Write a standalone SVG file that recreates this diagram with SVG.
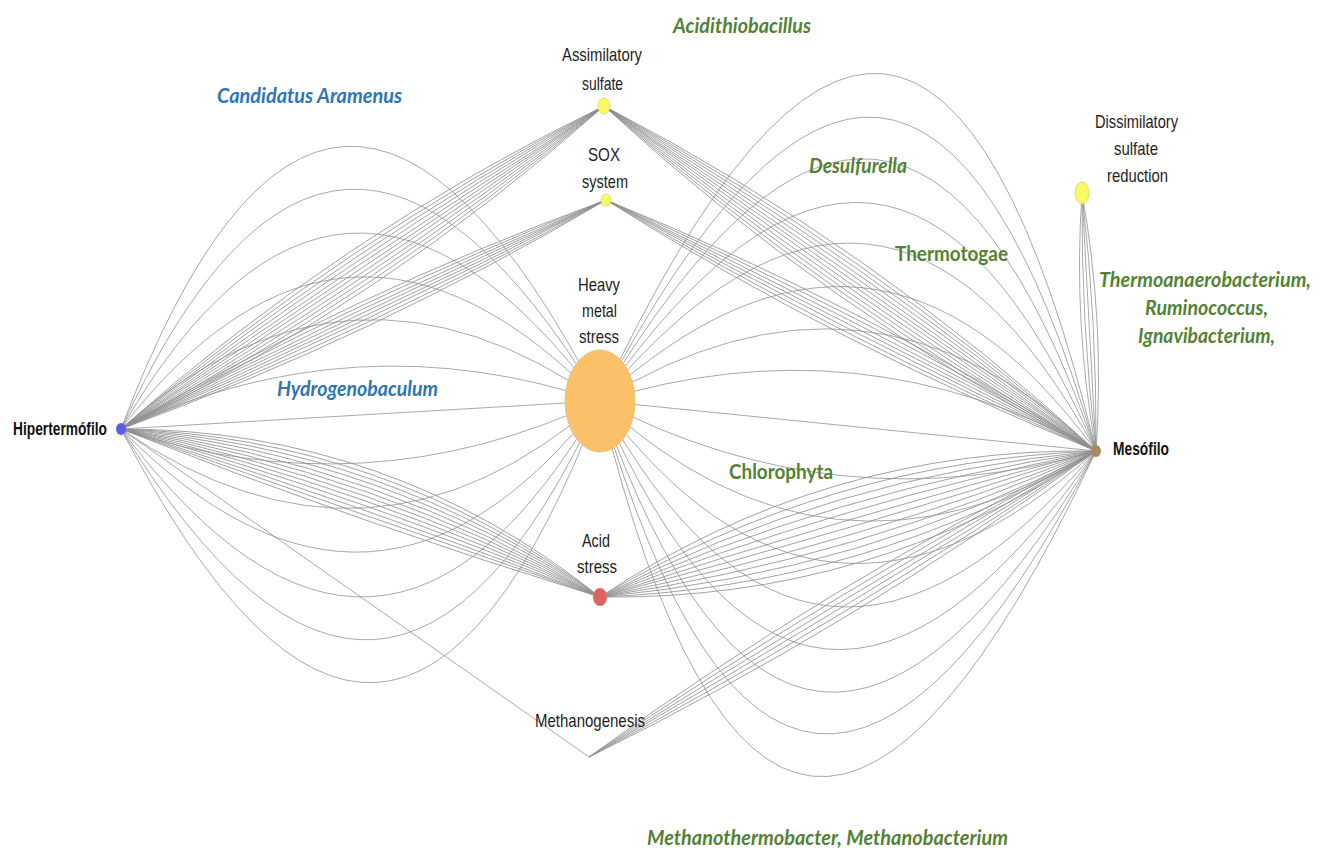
<svg xmlns="http://www.w3.org/2000/svg" width="1325" height="852" viewBox="0 0 1325 852">
  <style>
    .e { fill: none; stroke: #8e8e8e; stroke-width: 0.75; }
    .lbl { font-family: "Liberation Sans", Arial, sans-serif; font-size: 19px; fill: #1e1e1e; }
    .lblb { font-family: "Liberation Sans", Arial, sans-serif; font-size: 19px; font-weight: bold; fill: #111; }
    .tax { font-family: Lato, "Open Sans", sans-serif; font-size: 21px; font-weight: bold; }
    .it { font-style: italic; }
    .blue { fill: #2e75b6; }
    .green { fill: #548235; }
    .yellow { fill: #fafa62; stroke: #d6d66a; stroke-width: 0.8; }
  </style>
  <rect width="1325" height="852" fill="#ffffff"/>

  <!-- connectors: each bundle drawn in a local frame running along its chord -->
  <g id="edges">
    <!-- Hipertermófilo – Heavy metal stress -->
    <g transform="translate(121,429) rotate(-3.345)">
      <path class="e" d="M0,0 Q239.9,-538 479.8,0"/>
      <path class="e" d="M0,0 Q239.9,-452 479.8,0"/>
      <path class="e" d="M0,0 Q239.9,-364 479.8,0"/>
      <path class="e" d="M0,0 Q239.9,-276 479.8,0"/>
      <path class="e" d="M0,0 Q239.9,-190 479.8,0"/>
      <path class="e" d="M0,0 Q239.9,-96 479.8,0"/>
      <path class="e" d="M0,0 L479.8,0"/>
      <path class="e" d="M0,0 Q239.9,96 479.8,0"/>
      <path class="e" d="M0,0 Q239.9,186 479.8,0"/>
      <path class="e" d="M0,0 Q239.9,274 479.8,0"/>
      <path class="e" d="M0,0 Q239.9,364 479.8,0"/>
      <path class="e" d="M0,0 Q239.9,450 479.8,0"/>
      <path class="e" d="M0,0 Q239.9,536 479.8,0"/>
    </g>
    <!-- Heavy metal stress – Mesófilo -->
    <g transform="translate(600,401) rotate(5.757)">
      <path class="e" d="M0,0 Q249.3,-708 498.5,0"/>
      <path class="e" d="M0,0 Q249.3,-620 498.5,0"/>
      <path class="e" d="M0,0 Q249.3,-536 498.5,0"/>
      <path class="e" d="M0,0 Q249.3,-448 498.5,0"/>
      <path class="e" d="M0,0 Q249.3,-366 498.5,0"/>
      <path class="e" d="M0,0 Q249.3,-278 498.5,0"/>
      <path class="e" d="M0,0 Q249.3,-192 498.5,0"/>
      <path class="e" d="M0,0 Q249.3,-106 498.5,0"/>
      <path class="e" d="M0,0 L498.5,0"/>
      <path class="e" d="M0,0 Q249.3,100 498.5,0"/>
      <path class="e" d="M0,0 Q249.3,188 498.5,0"/>
      <path class="e" d="M0,0 Q249.3,274 498.5,0"/>
      <path class="e" d="M0,0 Q249.3,362 498.5,0"/>
      <path class="e" d="M0,0 Q249.3,448 498.5,0"/>
      <path class="e" d="M0,0 Q249.3,534 498.5,0"/>
      <path class="e" d="M0,0 Q249.3,618 498.5,0"/>
      <path class="e" d="M0,0 Q249.3,704 498.5,0"/>
    </g>
    <!-- Hipertermófilo – Assimilatory sulfate -->
    <g transform="translate(121,429) rotate(-33.77)">
      <path class="e" d="M0,0 Q290.5,-40 581,0"/>
      <path class="e" d="M0,0 Q290.5,-32 581,0"/>
      <path class="e" d="M0,0 Q290.5,-24 581,0"/>
      <path class="e" d="M0,0 Q290.5,-16 581,0"/>
      <path class="e" d="M0,0 Q290.5,-8 581,0"/>
      <path class="e" d="M0,0 L581,0"/>
      <path class="e" d="M0,0 Q290.5,8 581,0"/>
      <path class="e" d="M0,0 Q290.5,16 581,0"/>
      <path class="e" d="M0,0 Q290.5,24 581,0"/>
      <path class="e" d="M0,0 Q290.5,32 581,0"/>
      <path class="e" d="M0,0 Q290.5,40 581,0"/>
    </g>
    <!-- Hipertermófilo – SOX system -->
    <g transform="translate(121,429) rotate(-25.27)">
      <path class="e" d="M0,0 Q268.2,-24.5 536.4,0"/>
      <path class="e" d="M0,0 Q268.2,-17.5 536.4,0"/>
      <path class="e" d="M0,0 Q268.2,-10.5 536.4,0"/>
      <path class="e" d="M0,0 Q268.2,-3.5 536.4,0"/>
      <path class="e" d="M0,0 Q268.2,3.5 536.4,0"/>
      <path class="e" d="M0,0 Q268.2,10.5 536.4,0"/>
      <path class="e" d="M0,0 Q268.2,17.5 536.4,0"/>
      <path class="e" d="M0,0 Q268.2,24.5 536.4,0"/>
    </g>
    <!-- Assimilatory sulfate – Mesófilo -->
    <g transform="translate(604,106) rotate(35.04)">
      <path class="e" d="M0,0 Q300.5,-40 600.9,0"/>
      <path class="e" d="M0,0 Q300.5,-32 600.9,0"/>
      <path class="e" d="M0,0 Q300.5,-24 600.9,0"/>
      <path class="e" d="M0,0 Q300.5,-16 600.9,0"/>
      <path class="e" d="M0,0 Q300.5,-8 600.9,0"/>
      <path class="e" d="M0,0 L600.9,0"/>
      <path class="e" d="M0,0 Q300.5,8 600.9,0"/>
      <path class="e" d="M0,0 Q300.5,16 600.9,0"/>
      <path class="e" d="M0,0 Q300.5,24 600.9,0"/>
      <path class="e" d="M0,0 Q300.5,32 600.9,0"/>
      <path class="e" d="M0,0 Q300.5,40 600.9,0"/>
    </g>
    <!-- SOX system – Mesófilo -->
    <g transform="translate(606,200) rotate(27.12)">
      <path class="e" d="M0,0 Q275.3,-24 550.6,0"/>
      <path class="e" d="M0,0 Q275.3,-16 550.6,0"/>
      <path class="e" d="M0,0 Q275.3,-8 550.6,0"/>
      <path class="e" d="M0,0 L550.6,0"/>
      <path class="e" d="M0,0 Q275.3,8 550.6,0"/>
      <path class="e" d="M0,0 Q275.3,16 550.6,0"/>
      <path class="e" d="M0,0 Q275.3,24 550.6,0"/>
    </g>
    <!-- Hipertermófilo – Acid stress -->
    <g transform="translate(121,429) rotate(19.33)">
      <path class="e" d="M0,0 Q253.8,10 507.6,0"/>
      <path class="e" d="M0,0 Q253.8,1 507.6,0"/>
      <path class="e" d="M0,0 Q253.8,-8 507.6,0"/>
      <path class="e" d="M0,0 Q253.8,-17 507.6,0"/>
      <path class="e" d="M0,0 Q253.8,-26 507.6,0"/>
      <path class="e" d="M0,0 Q253.8,-35 507.6,0"/>
      <path class="e" d="M0,0 Q253.8,-44 507.6,0"/>
      <path class="e" d="M0,0 Q253.8,-53 507.6,0"/>
      <path class="e" d="M0,0 Q253.8,-62 507.6,0"/>
      <path class="e" d="M0,0 Q253.8,-71 507.6,0"/>
      <path class="e" d="M0,0 Q253.8,-80 507.6,0"/>
      <path class="e" d="M0,0 Q253.8,-89 507.6,0"/>
    </g>
    <!-- Acid stress – Mesófilo -->
    <g transform="translate(600,597) rotate(-16.40)">
      <path class="e" d="M0,0 Q258.5,-80 517,0"/>
      <path class="e" d="M0,0 Q258.5,-65.5 517,0"/>
      <path class="e" d="M0,0 Q258.5,-51 517,0"/>
      <path class="e" d="M0,0 Q258.5,-36.4 517,0"/>
      <path class="e" d="M0,0 Q258.5,-21.8 517,0"/>
      <path class="e" d="M0,0 Q258.5,-7.3 517,0"/>
      <path class="e" d="M0,0 Q258.5,7.3 517,0"/>
      <path class="e" d="M0,0 Q258.5,21.8 517,0"/>
      <path class="e" d="M0,0 Q258.5,36.4 517,0"/>
      <path class="e" d="M0,0 Q258.5,51 517,0"/>
      <path class="e" d="M0,0 Q258.5,65.5 517,0"/>
      <path class="e" d="M0,0 Q258.5,80 517,0"/>
    </g>
    <!-- Methanogenesis – Mesófilo -->
    <g transform="translate(589,757) rotate(-31.11)">
      <path class="e" d="M0,0 Q296.1,-25 592.2,0"/>
      <path class="e" d="M0,0 Q296.1,-15 592.2,0"/>
      <path class="e" d="M0,0 Q296.1,-5 592.2,0"/>
      <path class="e" d="M0,0 Q296.1,5 592.2,0"/>
      <path class="e" d="M0,0 Q296.1,15 592.2,0"/>
      <path class="e" d="M0,0 Q296.1,25 592.2,0"/>
    </g>
    <!-- Dissimilatory sulfate reduction – Mesófilo -->
    <g transform="translate(1082,193) rotate(86.89)">
      <path class="e" d="M0,0 Q129.2,-16 258.4,0"/>
      <path class="e" d="M0,0 Q129.2,-8 258.4,0"/>
      <path class="e" d="M0,0 L258.4,0"/>
      <path class="e" d="M0,0 Q129.2,8 258.4,0"/>
      <path class="e" d="M0,0 Q129.2,16 258.4,0"/>
    </g>
    <!-- Hipertermófilo – Methanogenesis -->
    <path class="e" d="M121,429 L589,757"/>
  </g>

  <!-- nodes -->
  <g id="node-hipertermofilo">
    <ellipse cx="121" cy="429" rx="5" ry="6" fill="#5b5fe0"/>
    <text class="lblb" x="13" y="435" textLength="94" lengthAdjust="spacingAndGlyphs">Hipertermófilo</text>
  </g>
  <g id="node-mesofilo">
    <ellipse cx="1096" cy="451" rx="5" ry="6" fill="#a88a5c"/>
    <text class="lblb" x="1113" y="455" textLength="56" lengthAdjust="spacingAndGlyphs">Mesófilo</text>
  </g>
  <g id="node-assimilatory-sulfate">
    <ellipse class="yellow" cx="604" cy="106" rx="6" ry="8"/>
    <text class="lbl" x="562" y="61" textLength="80" lengthAdjust="spacingAndGlyphs">Assimilatory</text>
    <text class="lbl" x="582" y="90" textLength="41" lengthAdjust="spacingAndGlyphs">sulfate</text>
  </g>
  <g id="node-sox-system">
    <ellipse class="yellow" cx="606" cy="200" rx="5" ry="6"/>
    <text class="lbl" x="588" y="161" textLength="32" lengthAdjust="spacingAndGlyphs">SOX</text>
    <text class="lbl" x="582" y="188" textLength="46" lengthAdjust="spacingAndGlyphs">system</text>
  </g>
  <g id="node-heavy-metal-stress">
    <ellipse cx="600" cy="401" rx="35" ry="51" fill="#fcc068" stroke="#d9c377" stroke-width="0.8"/>
    <text class="lbl" x="578" y="291" textLength="42" lengthAdjust="spacingAndGlyphs">Heavy</text>
    <text class="lbl" x="582" y="317" textLength="35" lengthAdjust="spacingAndGlyphs">metal</text>
    <text class="lbl" x="579" y="343" textLength="40" lengthAdjust="spacingAndGlyphs">stress</text>
  </g>
  <g id="node-acid-stress">
    <ellipse cx="600" cy="597" rx="7" ry="9" fill="#de6262" stroke="#c9a070" stroke-width="0.6"/>
    <text class="lbl" x="582" y="547" textLength="28" lengthAdjust="spacingAndGlyphs">Acid</text>
    <text class="lbl" x="577" y="573" textLength="40" lengthAdjust="spacingAndGlyphs">stress</text>
  </g>
  <g id="node-methanogenesis">
    <text class="lbl" x="535" y="727" textLength="110" lengthAdjust="spacingAndGlyphs">Methanogenesis</text>
  </g>
  <g id="node-dissimilatory-sulfate-reduction">
    <ellipse class="yellow" cx="1082" cy="193" rx="7" ry="11"/>
    <text class="lbl" x="1095" y="128" textLength="83" lengthAdjust="spacingAndGlyphs">Dissimilatory</text>
    <text class="lbl" x="1114" y="155" textLength="44" lengthAdjust="spacingAndGlyphs">sulfate</text>
    <text class="lbl" x="1107" y="182" textLength="61" lengthAdjust="spacingAndGlyphs">reduction</text>
  </g>

  <!-- taxon annotations -->
  <g id="taxa">
    <text class="tax it green" x="673" y="33" textLength="138" lengthAdjust="spacingAndGlyphs">Acidithiobacillus</text>
    <text class="tax it blue" x="217" y="103" textLength="185" lengthAdjust="spacingAndGlyphs">Candidatus  Aramenus</text>
    <text class="tax it green" x="809" y="173" textLength="98" lengthAdjust="spacingAndGlyphs">Desulfurella</text>
    <text class="tax green" x="895" y="261" textLength="113" lengthAdjust="spacingAndGlyphs">Thermotogae</text>
    <text class="tax it green" x="1099" y="287" textLength="212" lengthAdjust="spacingAndGlyphs">Thermoanaerobacterium,</text>
    <text class="tax it green" x="1145" y="315" textLength="123" lengthAdjust="spacingAndGlyphs">Ruminococcus,</text>
    <text class="tax it green" x="1138" y="343" textLength="137" lengthAdjust="spacingAndGlyphs">Ignavibacterium,</text>
    <text class="tax it blue" x="277" y="396" textLength="161" lengthAdjust="spacingAndGlyphs">Hydrogenobaculum</text>
    <text class="tax green" x="729" y="479" textLength="104" lengthAdjust="spacingAndGlyphs">Chlorophyta</text>
    <text class="tax it green" x="647" y="845" textLength="361" lengthAdjust="spacingAndGlyphs">Methanothermobacter, Methanobacterium</text>
  </g>
</svg>
